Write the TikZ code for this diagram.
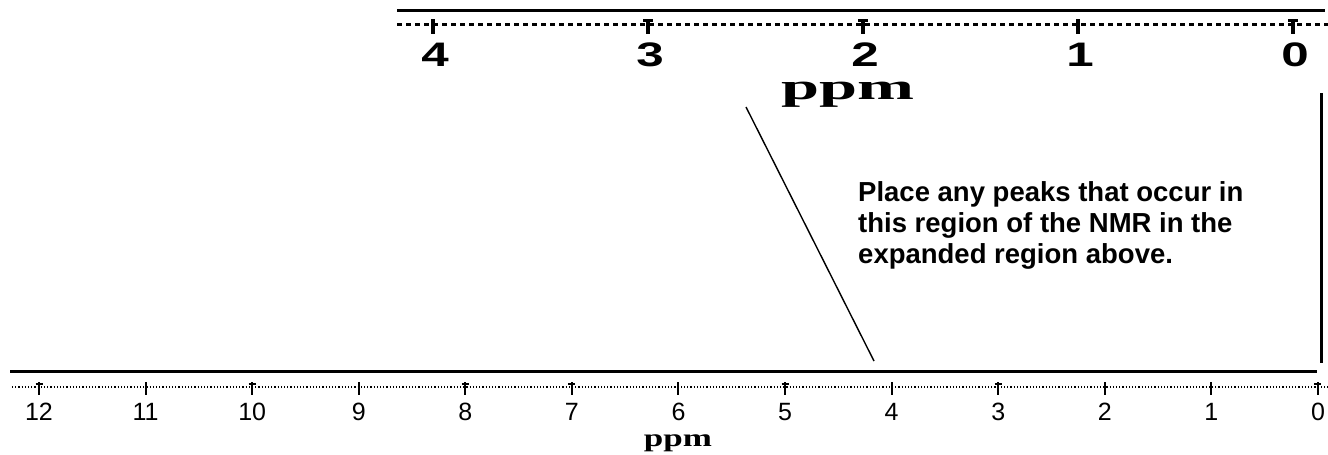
\documentclass[tikz,border=0pt]{standalone}
\usepackage{fontspec}
\setmainfont{Liberation Sans}
\newfontfamily\slabfont{Liberation Serif}
\usepackage{graphicx}
\begin{document}
\begin{tikzpicture}[x=1pt,y=-1pt,
  solidaxis/.style={line width=3pt},
  topdash/.style={line width=3pt,dash pattern=on 5pt off 4pt},
  botdot/.style={line width=1.6pt,dash pattern=on 1.2pt off 2pt},
  toptick/.style={line width=4pt},
  bottick/.style={line width=2pt},
  toplabel/.style={inner sep=0pt,font=\fontsize{34}{34}\selectfont\bfseries},
  botlabel/.style={inner sep=0pt,font=\fontsize{25}{25}\selectfont},
  guide/.style={line width=1.4pt},
  note/.style={inner sep=0pt,align=left,anchor=north west,
    font=\fontsize{27.5}{31}\selectfont\bfseries}
]
\useasboundingbox (0,0) rectangle (1328,455);
% top expanded axis
\coordinate (tsL) at (397,10);
\coordinate (tsR) at (1325,10);
\draw[solidaxis] (tsL) -- (tsR);
\coordinate (tdL) at (397,24);
\coordinate (tdR) at (1328,24);
\draw[topdash] (tdL) -- (tdR);
\foreach \v/\x/\c in {4/433/0,3/648/1,2/863/1,1/1078/0,0/1293/1}{
  \coordinate (tt\v a) at (\x,19);
  \coordinate (tt\v b) at (\x,34);
  \draw[toptick] (tt\v a) -- (tt\v b);
  \ifnum\c=1
    \draw[line width=3pt] (\x-5,20.5) -- (\x+5,20.5);
  \fi
  \node[toplabel] (tl\v) at (\x+2,55) {\scalebox{1.45}[1]{\v}};
}
\node[inner sep=0pt,anchor=base,font=\fontsize{37}{37}\selectfont\slabfont\bfseries] (tppm) at (848,99) {\scalebox{1.85}[1]{ppm}};
% bottom full axis
\coordinate (bsL) at (10,371);
\coordinate (bsR) at (1317,371);
\draw[solidaxis] (bsL) -- (bsR);
\coordinate (bdL) at (12,387);
\coordinate (bdR) at (1328,387);
\draw[botdot] (bdL) -- (bdR);
\foreach \v/\c in {12/1,11/0,10/1,9/0,8/1,7/1,6/0,5/1,4/0,3/1,2/0,1/0,0/1}{
  \pgfmathsetmacro\xx{39+(12-\v)*106.58}
  \coordinate (bt\v a) at (\xx,382);
  \coordinate (bt\v b) at (\xx,395);
  \draw[bottick] (bt\v a) -- (bt\v b);
  \ifnum\c=1
    \draw[line width=1.6pt] (\xx-3.5,384) -- (\xx+3.5,384);
  \fi
  \node[botlabel] (bl\v) at (\xx,412) {\v};
}
\node[inner sep=0pt,anchor=base,font=\fontsize{25}{25}\selectfont\slabfont\bfseries] (bppm) at (678,446) {\scalebox{1.4}[1]{ppm}};
% guide lines
\coordinate (gA) at (746,107);
\coordinate (gB) at (874,361);
\draw[guide] (gA) -- (gB);
\coordinate (vA) at (1321,93);
\coordinate (vB) at (1321,363);
\draw[solidaxis] (vA) -- (vB);
% note
\node[note] (note) at (858,181) {Place any peaks that occur in\\this region of the NMR in the\\expanded region above.};
\end{tikzpicture}
\end{document}
